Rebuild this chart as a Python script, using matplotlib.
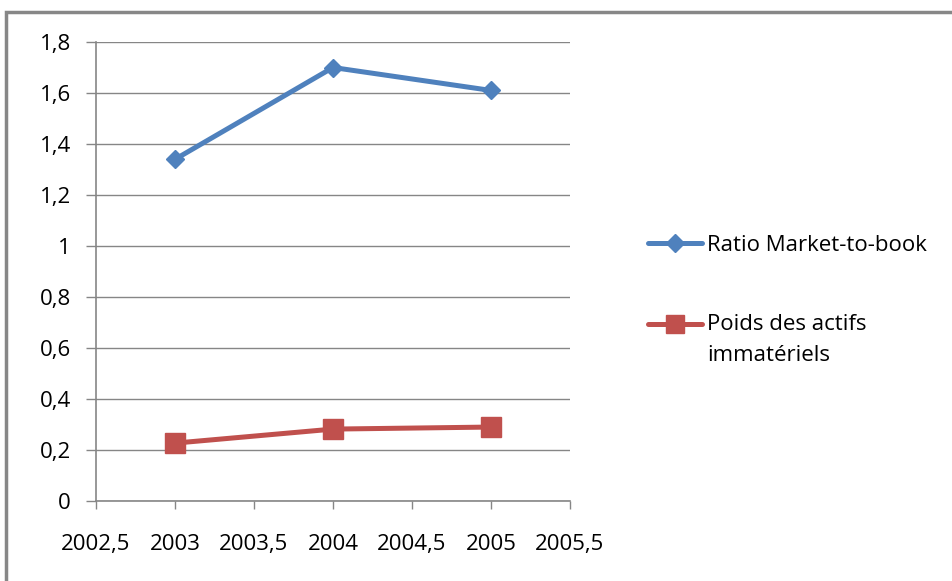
import matplotlib.pyplot as plt
from matplotlib.lines import Line2D
from matplotlib.patches import Rectangle
from matplotlib.ticker import FuncFormatter, MultipleLocator

# DATA
years = [2003, 2004, 2005]
market_to_book = [1.34, 1.70, 1.61]
intangibles = [0.227, 0.282, 0.290]
labels = ['Ratio Market-to-book', 'Poids des actifs\nimmatériels']

BLUE = '#4F81BD'
RED = '#C0504D'
GRID = '#868686'
FS = 16

plt.rcParams['font.family'] = ['Open Sans', 'DejaVu Sans']

fig = plt.figure(figsize=(9.52, 5.81), dpi=100, facecolor='white')
ax = fig.add_axes([96/952, 1 - 501/581, 474/952, 459/581])

ax.plot(years, market_to_book, color=BLUE, lw=3.6, marker='D', ms=9,
        solid_capstyle='round', zorder=3)
ax.plot(years, intangibles, color=RED, lw=3.6, marker='s', ms=14,
        solid_capstyle='round', zorder=3)

ax.set_xlim(2002.5, 2005.5)
ax.set_ylim(0, 1.8)
ax.xaxis.set_major_locator(MultipleLocator(0.5))
ax.yaxis.set_major_locator(MultipleLocator(0.2))

# french decimal comma
def comma(v, pos):
    s = f'{v:.1f}'.rstrip('0').rstrip('.')
    return s.replace('.', ',')

ax.xaxis.set_major_formatter(FuncFormatter(comma))
ax.yaxis.set_major_formatter(FuncFormatter(comma))

ax.grid(axis='y', color=GRID, lw=1.0)
ax.set_axisbelow(True)
for side in ('top', 'right'):
    ax.spines[side].set_visible(False)
for side in ('left', 'bottom'):
    ax.spines[side].set_color(GRID)
    ax.spines[side].set_linewidth(1.2)
ax.tick_params(axis='y', length=7, width=1.0, color=GRID, pad=11, labelsize=FS)
ax.tick_params(axis='x', length=6, width=1.0, color=GRID, pad=18, labelsize=FS)

# legend drawn on the figure, handle level with first text line
fig.add_artist(Line2D([648/952, 702/952], [1 - 243/581] * 2, color=BLUE, lw=3.6,
                      solid_capstyle='round'))
fig.add_artist(Line2D([675/952], [1 - 243/581], color=BLUE, marker='D', ms=9))
fig.add_artist(Line2D([648/952, 702/952], [1 - 324/581] * 2, color=RED, lw=3.6,
                      solid_capstyle='round'))
fig.add_artist(Line2D([675/952], [1 - 324/581], color=RED, marker='s', ms=13))
fig.text(707/952, 1 - 243/581, labels[0], fontsize=FS, va='center_baseline', ha='left')
fig.text(707/952, 1 - 314/581, labels[1], fontsize=FS, va='top', ha='left',
         linespacing=1.65)

# outer chart frame
fig.add_artist(Rectangle((6/952, -0.1), 1.1, 1 - 12/581 + 0.1, transform=fig.transFigure,
                         fill=False, edgecolor='#878787', lw=2.5))

fig.savefig('out.png', dpi=100, facecolor='white')
